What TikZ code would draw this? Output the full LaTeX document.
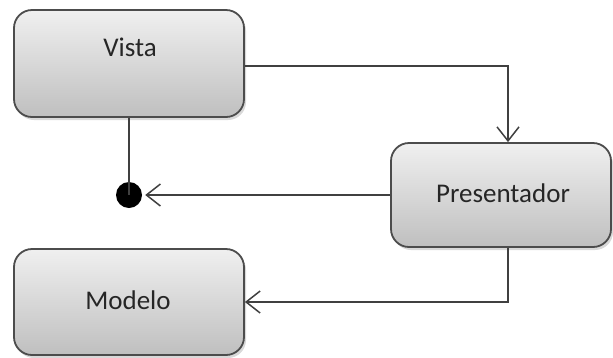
\documentclass[tikz,border=0pt]{standalone}
\usepackage{fontspec}
\setmainfont{Carlito}
\usetikzlibrary{arrows.meta,shadows}
\begin{document}
\begin{tikzpicture}[x=1pt,y=-1pt,
  box/.style={draw=black!70, line width=1.8pt, rounded corners=18pt,
    top color=black!6, bottom color=black!25, inner sep=0pt,
    drop shadow={shadow xshift=2pt, shadow yshift=-3pt, fill=black!25, opacity=0.6}},
  lbl/.style={font=\fontsize{27}{31}\selectfont, text=black!85},
  conn/.style={draw=black!75, line width=1.5pt},
  tip/.style={-{Straight Barb[length=14pt,width=22pt,line width=1.5pt]}}]
\useasboundingbox (0,0) rectangle (613,357);
% boxes
\node[box, minimum width=230pt, minimum height=107pt] (vista) at (129,63.5) {};
\node[lbl] (vistat) at (130,47) {Vista};
\node[box, minimum width=220pt, minimum height=104pt] (pres) at (501,195) {};
\node[lbl] (prest) at (503,193) {Presentador};
\node[box, minimum width=230pt, minimum height=106pt] (modelo) at (129,302) {};
\node[lbl] (modelot) at (128,300) {Modelo};
% dot
\node[circle, fill=black, inner sep=0pt, minimum size=26pt] (dot) at (129,195) {};
% connectors
\draw[conn, tip] (vista.east |- 0,66) -| (pres.north -| 508,0);
\draw[conn] (vista.south) -- (dot.center);
\draw[conn, tip, shorten >=3pt] (pres.west) -- (dot.east);
\draw[conn, tip] (pres.south -| 508,0) |- (modelo.east);
\end{tikzpicture}
\end{document}
